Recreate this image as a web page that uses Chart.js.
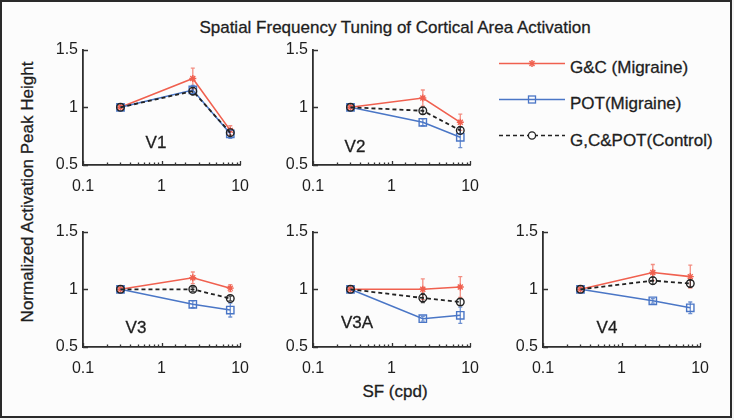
<!DOCTYPE html>
<html>
<head>
<meta charset="utf-8">
<script src="https://cdn.jsdelivr.net/npm/chart.js@4"></script>
<style>
  body { margin: 0; background: #f4f4f4; }
  #fig { position: absolute; left: 0; top: 0; width: 732px; height: 418px; background: #fcfcfc;
         font-family: "Liberation Sans", Arial, sans-serif; color: #1e1e1e; overflow: hidden; }
  #frame { position: absolute; left: 0; top: 0; width: 732px; height: 418px; box-sizing: border-box;
           border: 2px solid #2a2a2a; pointer-events: none; }
  #fig canvas { position: absolute; }
  .txt { position: absolute; white-space: nowrap; font-size: 17px; line-height: 1; transform: translate(-50%, -50%);
         -webkit-text-stroke: 0.3px #1e1e1e; }
  .leg { position: absolute; white-space: nowrap; font-size: 17px; line-height: 1; transform: translateY(-50%);
         -webkit-text-stroke: 0.3px #1e1e1e; }
</style>
</head>
<body>
<div id="fig">
  <div class="txt" style="left:395px; top:27px;">Spatial Frequency Tuning of Cortical Area Activation</div>
  <div class="txt" style="left:27px; top:192px; transform: translate(-50%, -50%) rotate(-90deg);">Normalized Activation Peak Height</div>
  <div class="txt" style="left:395px; top:391px;">SF (cpd)</div>

  <svg style="position:absolute; left:495px; top:50px;" width="75" height="100">
    <line x1="4" y1="13.5" x2="70" y2="13.5" stroke="#f0604f" stroke-width="1.5"/>
    <g stroke="#f0604f" stroke-width="1.5">
      <line x1="37" y1="10" x2="37" y2="17"/><line x1="33.5" y1="13.5" x2="40.5" y2="13.5"/>
      <line x1="34.5" y1="11" x2="39.5" y2="16"/><line x1="34.5" y1="16" x2="39.5" y2="11"/>
    </g>
    <line x1="4" y1="49.5" x2="70" y2="49.5" stroke="#4a76c6" stroke-width="1.5"/>
    <rect x="33.5" y="46" width="7" height="7" fill="none" stroke="#4a76c6" stroke-width="1.3"/>
    <line x1="4" y1="85.5" x2="70" y2="85.5" stroke="#222" stroke-width="1.6" stroke-dasharray="4 3"/>
    <circle cx="37" cy="85.5" r="3.6" fill="#fcfcfc" stroke="#222" stroke-width="1.3"/>
  </svg>
  <div class="leg" style="left:570px; top:67px;">G&amp;C (Migraine)</div>
  <div class="leg" style="left:570px; top:103px;">POT(Migraine)</div>
  <div class="leg" style="left:570px; top:140px;">G,C&amp;POT(Control)</div>

  <div id="frame"></div>
</div>

<script>
// data
const sf = [0.3, 2.5, 7.5];
const areas = ['V1', 'V2', 'V3', 'V3A', 'V4'];
const xTickLabels = [0.1, 1, 10];
const yTickLabels = [0.5, 1, 1.5];

const gcMean  = [[1, 1.25, 0.80], [1, 1.08, 0.87], [1, 1.10, 1.01], [1, 1.00, 1.02], [1, 1.145, 1.11]];
const gcErr   = [[0, 0.09, 0.04], [0, 0.07, 0.07], [0, 0.05, 0.03], [0, 0.09, 0.09], [0, 0.07, 0.10]];
const potMean = [[1, 1.15, 0.77], [1, 0.87, 0.74], [1, 0.87, 0.82], [1, 0.745, 0.775], [1, 0.90, 0.84]];
const potErr  = [[0, 0.04, 0.04], [0, 0.03, 0.09], [0, 0.03, 0.06], [0, 0.02, 0.07], [0, 0.02, 0.05]];
const ctlMean = [[1, 1.14, 0.78], [1, 0.97, 0.80], [1, 1.00, 0.92], [1, 0.925, 0.89], [1, 1.075, 1.05]];
const ctlErr  = [[0, 0.03, 0.03], [0, 0.03, 0.03], [0, 0.02, 0.02], [0, 0.04, 0.03], [0, 0.03, 0.03]];

// layout: left of x axis, top of y axis, and where the area label sits
const panelPos = [[83, 47], [313, 47], [83, 229], [313, 229], [543, 229]];
const labelPos = [[156, 142], [355, 146], [136, 327], [357, 322], [607, 327]];
const AX_W = 166, AX_H = 118, PAD_L = 50, PAD_T = 12, PAD_R = 12, PAD_B = 30;

Chart.defaults.font.family = '"Liberation Sans", Arial, sans-serif';
Chart.defaults.color = '#1e1e1e';

const isMajor = v => Math.abs(Math.log10(v) - Math.round(Math.log10(v))) < 1e-6;

const errorBars = {
  id: 'errorBars',
  beforeDatasetsDraw(chart) {
    const { ctx, scales: { x, y } } = chart;
    chart.data.datasets.forEach(ds => {
      ctx.save();
      ctx.strokeStyle = ds.errColor;
      ctx.lineWidth = 1.3;
      ctx.beginPath();
      ds.data.forEach((p, i) => {
        const e = ds.errs[i];
        if (!e) return;
        const px = x.getPixelForValue(p.x);
        const y1 = y.getPixelForValue(p.y - e), y2 = y.getPixelForValue(p.y + e);
        ctx.moveTo(px, y1); ctx.lineTo(px, y2);
        ctx.moveTo(px - 2, y1); ctx.lineTo(px + 2, y1);
        ctx.moveTo(px - 2, y2); ctx.lineTo(px + 2, y2);
      });
      ctx.stroke();
      ctx.restore();
    });
  }
};

const inTicks = {
  id: 'inTicks',
  afterDraw(chart) {
    const { ctx, chartArea: a, scales: { x, y } } = chart;
    ctx.save();
    ctx.strokeStyle = '#333';
    ctx.lineWidth = 1.3;
    ctx.beginPath();
    y.ticks.forEach(t => {
      const py = Math.round(y.getPixelForValue(t.value)) + 0.5;
      ctx.moveTo(a.left, py); ctx.lineTo(a.left + 5, py);
    });
    x.ticks.forEach(t => {
      const px = Math.round(x.getPixelForValue(t.value)) + 0.5;
      ctx.moveTo(px, a.bottom); ctx.lineTo(px, a.bottom - (isMajor(t.value) ? 4 : 2.5));
    });
    ctx.stroke();
    ctx.restore();
  }
};

function series(label, means, errs, color, errColor, style, radius, width, dash, order) {
  return {
    label,
    data: sf.map((x, i) => ({ x, y: means[i] })),
    errs, errColor,
    showLine: true,
    borderColor: color,
    backgroundColor: 'rgba(0,0,0,0)',
    borderWidth: width,
    borderDash: dash,
    pointStyle: style,
    pointRadius: radius,
    pointBorderWidth: 1.4,
    pointBorderColor: color,
    pointBackgroundColor: style === 'star' ? color : 'rgba(0,0,0,0)',
    order
  };
}

const fig = document.getElementById('fig');
areas.forEach((area, k) => {
  const [x0, y0] = panelPos[k];
  const cv = document.createElement('canvas');
  cv.width = PAD_L + AX_W + PAD_R;
  cv.height = PAD_T + AX_H + PAD_B;
  cv.style.left = (x0 - PAD_L) + 'px';
  cv.style.top = (y0 - PAD_T) + 'px';
  fig.insertBefore(cv, document.getElementById('frame'));

  const lab = document.createElement('div');
  lab.className = 'txt';
  lab.style.left = labelPos[k][0] + 'px';
  lab.style.top = labelPos[k][1] + 'px';
  lab.style.fontSize = '17px';
  lab.textContent = area;
  fig.insertBefore(lab, document.getElementById('frame'));

  new Chart(cv, {
    type: 'scatter',
    data: {
      datasets: [
        series('G&C (Migraine)', gcMean[k], gcErr[k], '#f0604f', 'rgba(240,96,79,0.7)', 'star', 3.5, 1.6, [], 2),
        series('POT(Migraine)', potMean[k], potErr[k], '#4a76c6', 'rgba(74,118,198,0.8)', 'rect', 5.2, 1.5, [], 1),
        series('G,C&POT(Control)', ctlMean[k], ctlErr[k], '#222', 'rgba(34,34,34,0.8)', 'circle', 3.8, 1.8, [4, 3], 0)
      ]
    },
    options: {
      responsive: false,
      animation: false,
      layout: { padding: { top: PAD_T, right: PAD_R, left: 0, bottom: 0 } },
      plugins: { legend: { display: false }, tooltip: { enabled: false } },
      scales: {
        x: {
          type: 'logarithmic',
          min: 0.1, max: 10,
          grid: { display: false, drawTicks: false },
          border: { color: '#2e2e2e', width: 1.8 },
          ticks: {
            autoSkip: false, maxRotation: 0, padding: 12,
            font: { size: 16 },
            callback: v => (xTickLabels.some(t => Math.abs(t - v) < 1e-9) ? String(v) : '')
          },
          afterFit(s) { s.height = PAD_B; }
        },
        y: {
          min: 0.5, max: 1.5,
          grid: { display: false, drawTicks: false },
          border: { color: '#2e2e2e', width: 1.8 },
          ticks: {
            stepSize: 0.5, padding: 5,
            font: { size: 16 },
            callback: v => (yTickLabels.includes(v) ? String(v) : '')
          },
          afterFit(s) { s.width = PAD_L; }
        }
      }
    },
    plugins: [errorBars, inTicks]
  });
});
</script>
</body>
</html>
